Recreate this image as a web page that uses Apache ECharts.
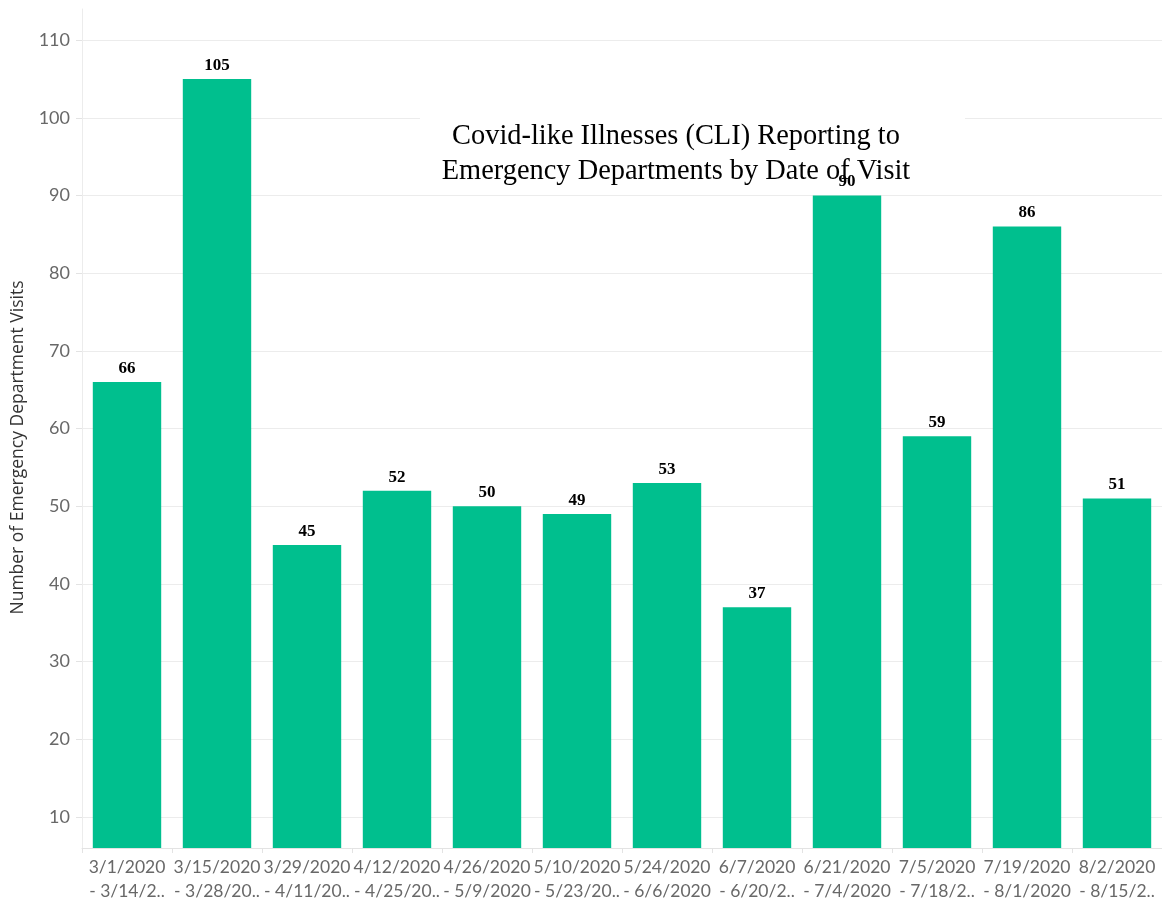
<!DOCTYPE html>
<html>
<head>
<meta charset="utf-8">
<script src="https://cdn.jsdelivr.net/npm/echarts@6/dist/echarts.min.js"></script>
<style>
html,body{margin:0;padding:0;background:#fff;}
#c{width:1162px;height:907px;}
</style>
</head>
<body>
<div id="c"></div>
<script>
const categories = [
  "3/1/2020\n- 3/14/2..", "3/15/2020\n- 3/28/20..", "3/29/2020\n- 4/11/20..", "4/12/2020\n- 4/25/20..",
  "4/26/2020\n- 5/9/2020", "5/10/2020\n- 5/23/20..", "5/24/2020\n- 6/6/2020", "6/7/2020\n- 6/20/2..",
  "6/21/2020\n- 7/4/2020", "7/5/2020\n- 7/18/2..", "7/19/2020\n- 8/1/2020", "8/2/2020\n- 8/15/2.."
];
const visits = [66, 105, 45, 52, 50, 49, 53, 37, 90, 59, 86, 51];
const yTicks = [10, 20, 30, 40, 50, 60, 70, 80, 90, 100, 110];
const titleText = "Covid-like Illnesses (CLI) Reporting to\nEmergency Departments by Date of Visit";

const chart = echarts.init(document.getElementById('c'), null, {renderer: 'canvas'});
chart.setOption({
  animation: false,
  backgroundColor: '#ffffff',
  title: {
    text: titleText,
    left: 671,
    top: 114,
    textAlign: 'center',
    z: 2,
    textStyle: {
      fontFamily: 'Liberation Serif',
      fontWeight: 'normal',
      fontSize: 28.4,
      lineHeight: 35,
      color: '#000'
    }
  },
  graphic: [{
    type: 'rect',
    z: 1,
    shape: {x: 420, y: 114, width: 545, height: 76},
    style: {fill: '#ffffff'}
  }],
  grid: {left: 82, right: 0, top: 9, bottom: 59, containLabel: false, outerBoundsMode: 'none'},
  xAxis: {
    type: 'category',
    data: categories,
    axisLine: {show: true, lineStyle: {color: '#e3e3e3', width: 1}},
    axisTick: {show: true, length: 5, alignWithLabel: false, lineStyle: {color: '#e3e3e3'}},
    axisLabel: {
      interval: 0,
      margin: 7,
      fontFamily: 'Lato',
      fontSize: 17.5,
      lineHeight: 24,
      color: '#686868',
      hideOverlap: false
    },
    splitLine: {show: false}
  },
  yAxis: {
    type: 'value',
    min: 6,
    max: 114,
    name: 'Number of Emergency Department Visits',
    nameLocation: 'middle',
    nameGap: 55,
    nameTextStyle: {fontFamily: 'Open Sans', fontSize: 17.5, color: '#333', padding: [0, 38, 0, 0]},
    axisLine: {show: true, lineStyle: {color: '#ececec', width: 1}},
    axisTick: {show: true, length: 6, customValues: yTicks, lineStyle: {color: '#e3e3e3'}},
    axisLabel: {customValues: yTicks, margin: 12, fontFamily: 'Lato', fontSize: 18, color: '#686868'},
    splitLine: {show: true, customValues: yTicks, lineStyle: {color: '#ececec', width: 1}}
  },
  series: [{
    type: 'bar',
    data: visits,
    z: 3,
    barCategoryGap: '24%',
    itemStyle: {color: '#00BF8E'},
    label: {
      show: true,
      position: 'top',
      distance: 5,
      fontFamily: 'Liberation Serif',
      fontWeight: 'bold',
      fontSize: 17,
      color: '#000'
    }
  }]
});
</script>
</body>
</html>
